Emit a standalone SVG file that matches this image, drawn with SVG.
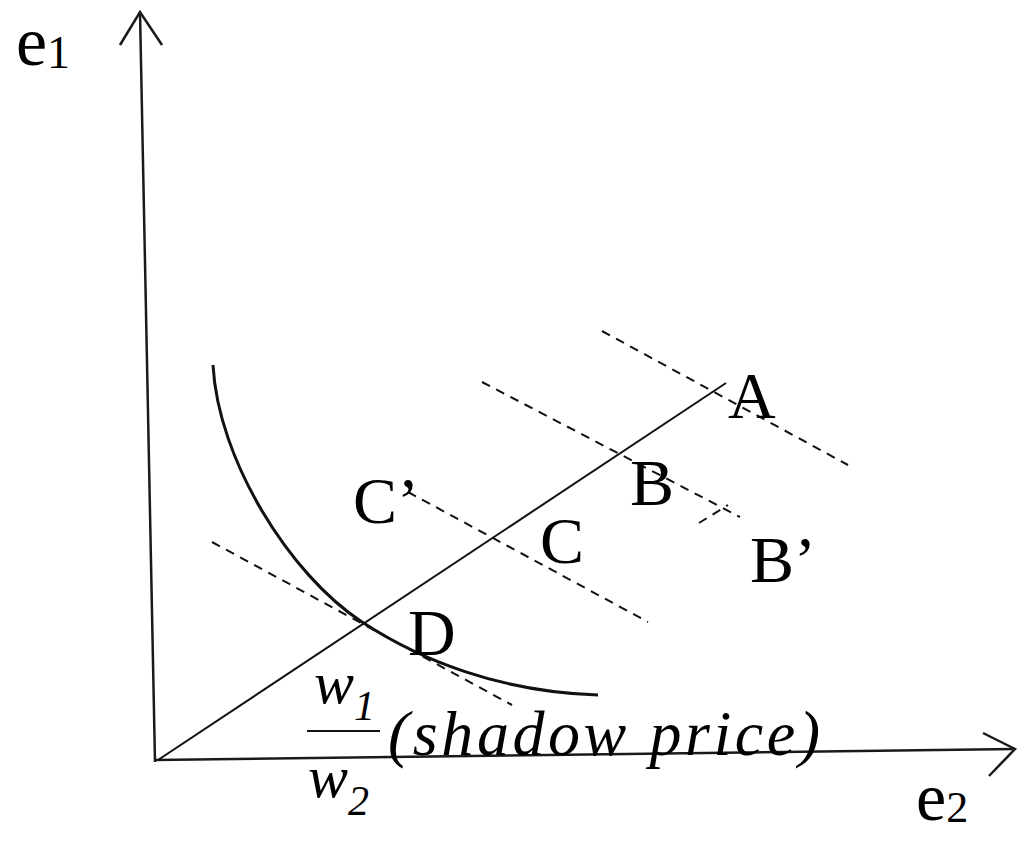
<svg xmlns="http://www.w3.org/2000/svg" width="1024" height="841" viewBox="0 0 1024 841">
<style>
.ax{stroke:#1a1a1a;stroke-width:2.5;fill:none}
.ln{stroke:#111;stroke-width:2;fill:none}
.dash{stroke:#111;stroke-width:2;fill:none;stroke-dasharray:9 7}
.curve{stroke:#111;stroke-width:3;fill:none}
.lbl{font-family:"Liberation Serif","Times New Roman",serif;fill:#000}
.it{font-family:"Liberation Serif","Times New Roman",serif;font-style:italic;fill:#000}
</style>
<rect width="1024" height="841" fill="#fff"/>
<g id="axes">
<line class="ax" x1="140" y1="12" x2="155" y2="762"/>
<polyline class="ax" points="120,45 140,12 162,45"/>
<line class="ax" x1="154" y1="760" x2="1015" y2="749"/>
<polyline class="ax" points="983,733 1015,749 989,776"/>
<text class="lbl" x="16" y="65" font-size="70">e<tspan font-size="46" dy="3">1</tspan></text>
<text class="lbl" x="916" y="820" font-size="68">e<tspan font-size="44" dy="2">2</tspan></text>
</g>
<g id="connectors">
<line class="ln" x1="158" y1="760" x2="726" y2="383"/>
<line class="dash" x1="602" y1="331" x2="848" y2="465"/>
<line class="dash" x1="482" y1="382" x2="740" y2="517"/>
<line class="dash" x1="699" y1="523" x2="728" y2="505"/>
<line class="dash" x1="408" y1="492" x2="648" y2="622"/>
<line class="dash" x1="212" y1="542" x2="512" y2="705"/>
<path class="curve" d="M213,365 C218,460 290,575 362,622 C420,660 500,692 598,695"/>
</g>
<g id="A"><text class="lbl" x="728" y="418" font-size="66">A</text></g>
<g id="B"><text class="lbl" x="630" y="505" font-size="66">B</text></g>
<g id="Bp"><text class="lbl" x="750" y="582" font-size="66">B’</text></g>
<g id="C"><text class="lbl" x="540" y="563" font-size="66">C</text></g>
<g id="Cp"><text class="lbl" x="353" y="523" font-size="66">C’</text></g>
<g id="D"><text class="lbl" x="408" y="655" font-size="66">D</text></g>
<g id="shadow">
<text class="it" x="314" y="703" font-size="60">w<tspan font-size="42" dy="17">1</tspan></text>
<line class="ln" x1="307" y1="731" x2="380" y2="731"/>
<text class="it" x="308" y="797" font-size="60">w<tspan font-size="42" dy="18">2</tspan></text>
<text class="it" x="388" y="755" font-size="64" textLength="432" lengthAdjust="spacing">(shadow price)</text>
</g>
</svg>
